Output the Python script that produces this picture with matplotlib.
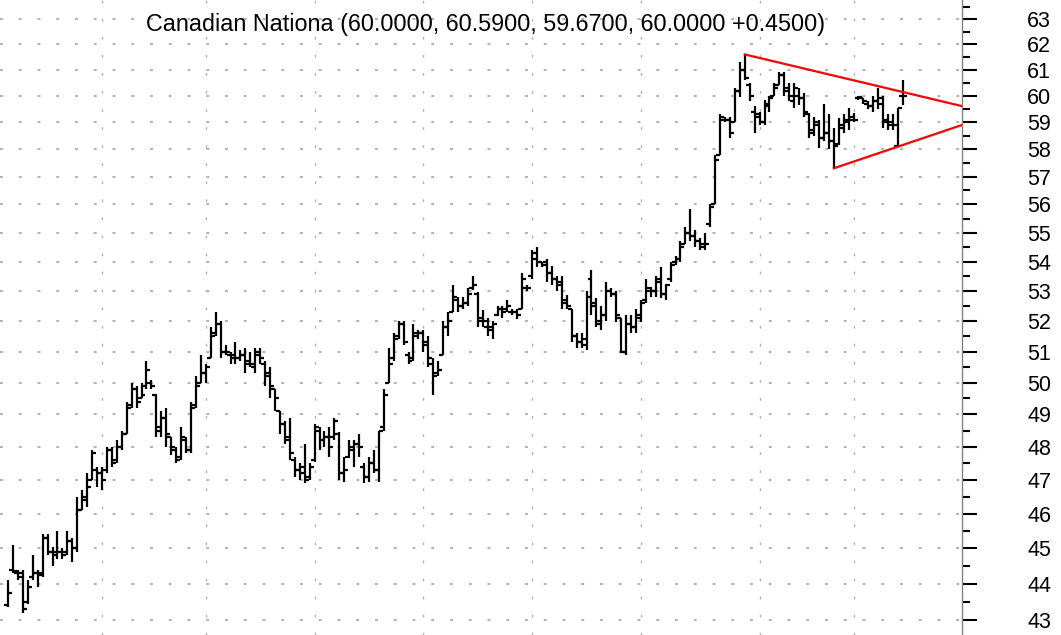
import matplotlib
matplotlib.use("Agg")
import matplotlib.pyplot as plt
import numpy as np
from matplotlib.ticker import FixedLocator, NullFormatter, FixedFormatter

# Daily OHLC bars (oldest first)
opens = [43.4, 44.4, 44.3, 44.3, 43.5, 44.2, 44.3, 44.3, 45.3, 44.9,
         44.8, 44.9, 44.9, 45.2, 45.0, 46.1, 46.4, 47.0, 47.3, 47.2,
         47.3, 47.9, 47.6, 48.0, 48.4, 49.3, 49.8, 49.5, 49.9, 50.0,
         49.6, 48.6, 48.9, 48.3, 47.9, 47.7, 48.2, 47.9, 49.3, 50.0,
         50.3, 50.8, 51.6, 51.9, 51.0, 50.9, 50.8, 50.8, 50.9, 50.6,
         50.5, 50.9, 50.6, 50.2, 49.8, 49.1, 48.7, 48.3, 47.6, 47.3,
         47.4, 47.1, 47.6, 48.5, 48.2, 48.3, 48.3, 48.4, 47.2, 47.7,
         47.9, 48.1, 47.4, 47.1, 47.5, 47.3, 48.6, 50.0, 50.8, 51.5,
         51.9, 50.9, 50.8, 51.6, 51.6, 51.3, 50.6, 50.3, 50.9, 51.8,
         52.3, 52.7, 52.5, 52.6, 53.1, 52.9, 52.1, 51.8, 51.7, 52.2,
         52.4, 52.4, 52.3, 52.3, 52.4, 53.1, 53.5, 54.3, 54.0, 54.0,
         53.6, 53.4, 53.3, 52.7, 52.4, 51.5, 51.3, 51.4, 53.4, 52.6,
         51.9, 52.2, 53.0, 52.9, 52.1, 51.0, 51.9, 51.8, 52.1, 52.7,
         53.0, 53.0, 53.4, 52.9, 53.4, 54.0, 54.1, 54.6, 55.0, 54.9,
         54.7, 54.5, 55.3, 56.0, 57.8, 59.1, 59.1, 59.0, 60.2, 61.0,
         60.4, 59.4, 59.2, 59.0, 59.6, 60.0, 60.4, 60.8, 60.3, 59.8,
         60.0, 59.9, 59.3, 58.7, 59.0, 58.4, 58.6, 58.3, 58.2, 58.8,
         59.0, 59.1, 59.9, 59.9, 59.7, 59.6, 59.8, 59.9, 59.1, 58.9,
         58.1, 60.0]
highs = [44.1, 45.1, 44.4, 44.4, 44.1, 44.8, 44.4, 45.4, 45.4, 45.05,
         45.5, 45.0, 45.5, 45.3, 46.5, 46.7, 47.2, 47.9, 47.4, 47.4,
         48.0, 48.0, 48.2, 48.5, 49.4, 50.0, 49.9, 50.0, 50.7, 50.1,
         49.65, 49.1, 49.2, 48.3, 48.0, 48.6, 48.3, 49.4, 50.2, 50.9,
         50.6, 51.8, 52.3, 52.0, 51.2, 51.0, 51.3, 51.05, 51.1, 51.0,
         51.1, 51.1, 50.7, 50.5, 49.8, 49.1, 48.8, 48.9, 47.7, 47.5,
         48.1, 47.5, 48.7, 48.6, 48.5, 48.6, 48.9, 48.45, 47.7, 48.2,
         48.2, 48.4, 47.5, 47.7, 47.9, 48.5, 49.8, 51.1, 51.6, 52.0,
         52.0, 51.0, 51.9, 51.7, 51.7, 51.5, 50.8, 50.7, 52.0, 52.3,
         53.2, 52.8, 52.8, 53.1, 53.5, 52.95, 52.35, 52.1, 52.0, 52.5,
         52.5, 52.7, 52.4, 52.4, 53.6, 53.2, 54.4, 54.5, 54.0, 54.1,
         53.85, 53.5, 53.5, 52.85, 52.4, 51.6, 51.6, 53.0, 53.7, 52.75,
         52.5, 53.3, 53.1, 53.0, 52.1, 52.2, 52.2, 52.4, 52.7, 53.4,
         53.15, 53.5, 53.8, 53.25, 54.0, 54.2, 54.7, 55.2, 55.85, 55.1,
         54.8, 55.0, 56.0, 57.8, 59.3, 59.2, 59.2, 60.3, 61.3, 61.6,
         60.5, 59.6, 59.4, 59.85, 60.0, 60.5, 60.9, 60.9, 60.5, 60.5,
         60.3, 60.1, 59.35, 59.2, 59.1, 59.7, 59.3, 58.8, 59.15, 59.3,
         59.55, 59.35, 60.0, 59.9, 59.8, 60.0, 60.3, 60.0, 59.3, 59.3,
         59.55, 60.59]
lows = [43.35, 44.3, 44.1, 43.2, 43.45, 44.1, 43.9, 44.2, 44.8, 44.5,
        44.7, 44.7, 44.8, 44.6, 44.9, 46.1, 46.2, 47.0, 46.8, 46.7,
        47.2, 47.4, 47.5, 47.9, 48.4, 49.2, 49.2, 49.5, 49.8, 49.8,
        48.3, 48.3, 48.0, 47.75, 47.5, 47.6, 47.8, 47.8, 49.2, 50.0,
        50.0, 50.8, 51.5, 50.8, 50.9, 50.6, 50.6, 50.7, 50.3, 50.5,
        50.3, 50.6, 49.9, 49.5, 49.1, 48.4, 48.1, 47.6, 47.1, 47.0,
        46.9, 47.0, 47.55, 47.9, 48.0, 47.7, 48.2, 47.0, 46.95, 47.65,
        47.4, 47.7, 46.9, 46.95, 47.2, 46.95, 48.5, 50.0, 50.7, 51.4,
        51.2, 50.6, 50.7, 51.4, 51.0, 50.5, 49.6, 50.2, 50.9, 51.5,
        52.3, 52.3, 52.4, 52.5, 53.05, 51.8, 51.8, 51.5, 51.4, 52.15,
        52.1, 52.3, 52.2, 52.05, 52.4, 53.0, 53.4, 53.8, 53.8, 53.3,
        53.2, 53.0, 52.4, 52.4, 51.3, 51.1, 51.1, 51.05, 52.2, 51.8,
        51.7, 52.0, 52.8, 51.95, 50.95, 50.9, 51.6, 51.6, 51.95, 52.6,
        52.8, 52.8, 52.75, 52.7, 53.3, 53.9, 54.0, 54.6, 54.7, 54.5,
        54.4, 54.4, 55.2, 56.0, 57.8, 59.0, 58.4, 59.0, 59.95, 60.6,
        59.8, 58.6, 58.9, 58.9, 59.4, 60.0, 60.4, 60.0, 59.8, 59.55,
        59.65, 59.2, 58.4, 58.5, 58.05, 58.3, 58.0, 57.3, 58.15, 58.6,
        58.7, 59.0, 59.85, 59.7, 59.5, 59.4, 59.5, 58.8, 58.7, 58.7,
        58.1, 59.67]
closes = [43.75, 44.35, 44.2, 43.3, 43.9, 44.3, 44.25, 45.3, 44.9, 44.9,
          44.9, 44.8, 45.2, 45.0, 46.1, 46.5, 46.8, 47.8, 47.2, 47.0,
          47.9, 47.5, 48.0, 48.4, 49.2, 49.8, 49.4, 49.6, 50.4, 49.9,
          48.5, 48.9, 48.4, 48.0, 47.6, 48.3, 47.9, 49.2, 49.9, 50.3,
          50.5, 51.5, 51.9, 51.0, 51.0, 50.9, 50.8, 50.9, 50.7, 50.6,
          51.0, 50.8, 50.3, 49.9, 49.5, 48.7, 48.2, 47.8, 47.3, 47.2,
          47.0, 47.4, 48.6, 48.2, 48.3, 48.0, 48.8, 47.2, 47.3, 48.0,
          48.1, 48.0, 47.1, 47.5, 47.3, 48.5, 49.6, 50.6, 51.4, 51.9,
          51.3, 50.7, 51.5, 51.6, 51.2, 50.8, 50.2, 50.4, 51.8, 52.0,
          52.8, 52.5, 52.6, 52.9, 53.2, 52.0, 52.0, 51.8, 51.9, 52.4,
          52.3, 52.5, 52.3, 52.2, 53.4, 53.1, 54.1, 54.0, 53.9, 53.6,
          53.4, 53.2, 52.6, 52.5, 51.5, 51.3, 51.2, 52.8, 52.5, 52.0,
          52.2, 53.0, 52.9, 52.2, 51.0, 51.9, 51.8, 52.2, 52.6, 53.1,
          53.0, 53.3, 52.9, 53.2, 53.9, 54.1, 54.5, 55.0, 54.9, 54.7,
          54.6, 54.6, 55.9, 57.6, 59.2, 59.1, 58.6, 60.2, 61.0, 60.7,
          60.0, 59.3, 59.0, 59.7, 59.9, 60.3, 60.8, 60.2, 60.0, 60.3,
          59.9, 59.4, 58.6, 58.9, 58.4, 58.6, 58.3, 58.1, 58.9, 59.1,
          59.2, 59.1, 59.95, 59.8, 59.6, 59.8, 59.7, 59.0, 59.0, 58.9,
          59.55, 60.0]

# price ticks on the right axis
price_ticks = list(range(43, 64))
half_ticks = [p + 0.5 for p in range(42, 64)]
# month separators (bar index)
month_lines = [19, 40, 62, 84, 106, 128, 152, 171]

# triangle trend lines: start bar/price and price at the right edge
upper_start = (149, 61.6)
upper_end_price = 59.61
lower_start = (167, 57.3)
lower_end_price = 58.9

title = "Canadian Nationa (60.0000, 60.5900, 59.6700, 60.0000 +0.4500)"

plt.rcParams['font.family'] = ['Liberation Sans', 'DejaVu Sans']

n = len(closes)
x = np.arange(n)
step = 895 / (n - 1)          # pixels per bar
x_left = -8 / step
x_right = (962 - 8) / step

fig = plt.figure(figsize=(10.61, 6.35), dpi=100)
ax = fig.add_axes([0, 0, 962 / 1061, 1])

# grid
for p in price_ticks:
    ax.axhline(p, color='#b4b4b4', lw=1.5, dashes=(1.4, 7.6), zorder=0)
for m in month_lines:
    ax.axvline(m, color='#b4b4b4', lw=1.0, dashes=(2, 11), zorder=0)

# OHLC bars
ax.vlines(x, lows, highs, color='black', lw=1.6, zorder=3)
ax.hlines(opens, x - 0.8, x, color='black', lw=1.6, zorder=3)
ax.hlines(closes, x, x + 0.8, color='black', lw=1.6, zorder=3)

# trend lines
ax.plot([upper_start[0], x_right], [upper_start[1], upper_end_price], color='red', lw=1.6, zorder=4)
ax.plot([lower_start[0], x_right], [lower_start[1], lower_end_price], color='red', lw=1.6, zorder=4)

ax.set_yscale('log')
ax.set_ylim(42.59, 63.77)
ax.set_xlim(x_left, x_right)

ax.yaxis.set_major_locator(FixedLocator(price_ticks))
ax.yaxis.set_major_formatter(FixedFormatter([str(p) for p in price_ticks]))
ax.yaxis.set_minor_locator(FixedLocator(half_ticks))
ax.yaxis.set_minor_formatter(NullFormatter())
ax.yaxis.tick_right()
ax.tick_params(axis='y', which='major', length=11, width=1.5, pad=36, labelsize=15.5, colors='black')
ax.tick_params(axis='y', which='minor', length=6, width=1.5)
ax.set_xticks([])

for side in ['left', 'top', 'bottom']:
    ax.spines[side].set_visible(False)
ax.spines['right'].set_color('#808080')
ax.spines['right'].set_linewidth(1)

ax.text(0.505, 1 - 24 / 635, title, transform=ax.transAxes, ha='center', va='center',
        fontsize=16.8, color='black', zorder=5)

fig.savefig('out.png', dpi=100)
